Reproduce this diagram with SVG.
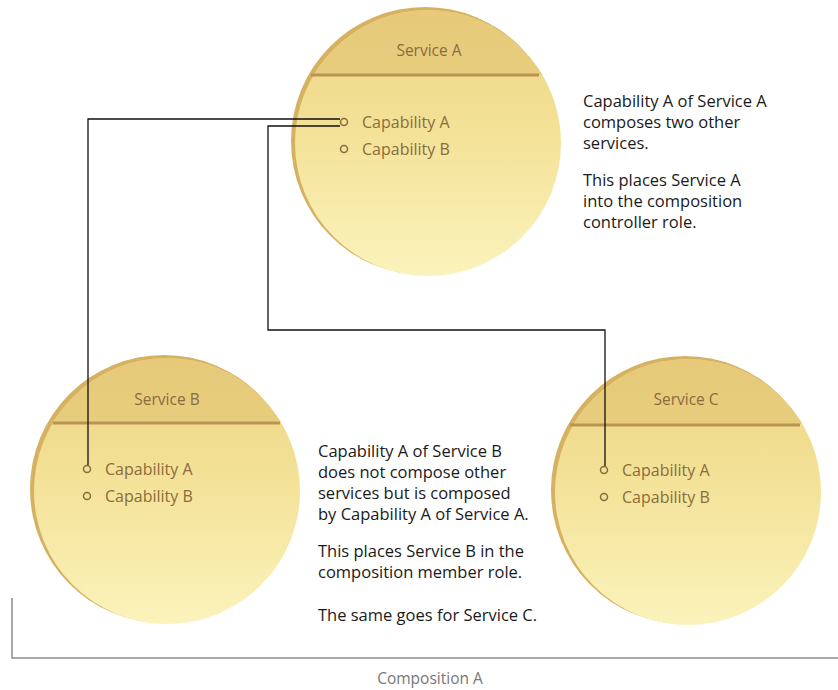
<svg xmlns="http://www.w3.org/2000/svg" width="838" height="690" viewBox="0 0 838 690">
  <defs>
    <linearGradient id="body" x1="0" y1="0" x2="0" y2="1">
      <stop offset="0" stop-color="#ecd481"/>
      <stop offset="0.5" stop-color="#f4e39a"/>
      <stop offset="1" stop-color="#fbf3bc"/>
    </linearGradient>
    <linearGradient id="head" x1="0" y1="0" x2="0" y2="1">
      <stop offset="0" stop-color="#e6ca7a"/>
      <stop offset="1" stop-color="#ecd588"/>
    </linearGradient>
    <clipPath id="clipA"><rect x="280" y="0" width="300" height="75"/></clipPath>
    <clipPath id="clipB"><rect x="20" y="340" width="300" height="83"/></clipPath>
    <clipPath id="clipC"><rect x="540" y="340" width="300" height="84"/></clipPath>
  </defs>
  <style>
    .rim { fill: #d6b161; }
    .face { fill: url(#body); }
    .band { fill: url(#head); }
    .divider { stroke: #b99453; stroke-width: 3; }
    .title { font-family: "Open Sans", "Liberation Sans", sans-serif; font-size: 15.5px; fill: #8a6c3c; text-anchor: middle; }
    .cap { font-family: "Open Sans", "Liberation Sans", sans-serif; font-size: 16px; fill: #8a6c3c; }
    .port { fill: none; stroke: #8a6c3c; stroke-width: 1.5; }
    .note { font-family: "Open Sans", "Liberation Sans", sans-serif; font-size: 16.5px; fill: #1a1a1a; }
    .wire { fill: none; stroke: #111; stroke-width: 1.3; }
    .frame { fill: none; stroke: #8c8c8c; stroke-width: 1.5; }
    .caption { font-family: "Open Sans", "Liberation Sans", sans-serif; font-size: 15.5px; fill: #777; text-anchor: middle; }
  </style>

  <rect width="838" height="690" fill="#fff"/>

  <!-- Service A -->
  <g id="serviceA">
    <circle class="rim" cx="425" cy="141" r="134"/>
    <circle class="face" cx="428" cy="143" r="133"/>
    <circle class="band" cx="428" cy="143" r="133" clip-path="url(#clipA)"/>
    <line class="divider" x1="311" y1="75" x2="539" y2="75"/>
    <text class="title" x="429" y="56">Service A</text>
    <circle class="port" cx="344" cy="122" r="3.5"/>
    <text class="cap" x="362" y="128">Capability A</text>
    <circle class="port" cx="344" cy="149" r="3.5"/>
    <text class="cap" x="362" y="155">Capability B</text>
  </g>

  <!-- Service B -->
  <g id="serviceB">
    <circle class="rim" cx="164" cy="489" r="134"/>
    <circle class="face" cx="167" cy="491" r="133"/>
    <circle class="band" cx="167" cy="491" r="133" clip-path="url(#clipB)"/>
    <line class="divider" x1="53" y1="423" x2="280" y2="423"/>
    <text class="title" x="167" y="405">Service B</text>
    <circle class="port" cx="87" cy="469" r="3.5"/>
    <text class="cap" x="105" y="475">Capability A</text>
    <circle class="port" cx="87" cy="496" r="3.5"/>
    <text class="cap" x="105" y="502">Capability B</text>
  </g>

  <!-- Service C -->
  <g id="serviceC">
    <circle class="rim" cx="685" cy="490" r="134"/>
    <circle class="face" cx="688" cy="492" r="133"/>
    <circle class="band" cx="688" cy="492" r="133" clip-path="url(#clipC)"/>
    <line class="divider" x1="570" y1="425" x2="800" y2="425"/>
    <text class="title" x="686" y="405">Service C</text>
    <circle class="port" cx="604" cy="470" r="3.5"/>
    <text class="cap" x="622" y="476">Capability A</text>
    <circle class="port" cx="604" cy="497" r="3.5"/>
    <text class="cap" x="622" y="503">Capability B</text>
  </g>

  <!-- Composition links from Capability A of Service A -->
  <g id="connectors">
    <polyline class="wire" points="340,119 88,119 88,465"/>
    <polyline class="wire" points="340,126 268,126 268,330 605,330 605,466"/>
  </g>

  <!-- Explanatory notes -->
  <g id="noteA">
    <text class="note" x="583" y="107">Capability A of Service A</text>
    <text class="note" x="583" y="128">composes two other</text>
    <text class="note" x="583" y="149">services.</text>
    <text class="note" x="583" y="186">This places Service A</text>
    <text class="note" x="583" y="207">into the composition</text>
    <text class="note" x="583" y="228">controller role.</text>
  </g>
  <g id="noteB">
    <text class="note" x="318" y="457">Capability A of Service B</text>
    <text class="note" x="318" y="478">does not compose other</text>
    <text class="note" x="318" y="499">services but is composed</text>
    <text class="note" x="318" y="520">by Capability A of Service A.</text>
    <text class="note" x="318" y="557">This places Service B in the</text>
    <text class="note" x="318" y="578">composition member role.</text>
    <text class="note" x="318" y="621">The same goes for Service C.</text>
  </g>

  <!-- Composition boundary -->
  <g id="compositionA">
    <polyline class="frame" points="12,598 12,658 838,658"/>
    <text class="caption" x="430" y="684">Composition A</text>
  </g>
</svg>
